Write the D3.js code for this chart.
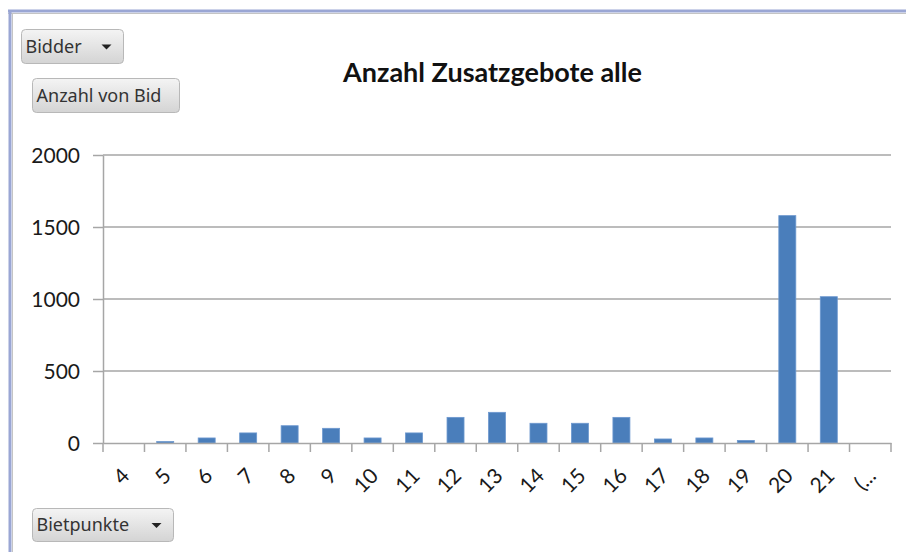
<!DOCTYPE html>
<html>
<head>
<meta charset="utf-8">
<script src="https://cdn.jsdelivr.net/npm/d3@7"></script>
<style>
  body { margin: 0; background: #fff; }
  svg { display: block; }
  .axis text { font-family: Lato, sans-serif; font-size: 21px; fill: #1a1a1a; }
  .axis path, .axis line { stroke: #a6a6a6; stroke-width: 1.5; }
  .btn text { font-family: "Noto Sans", sans-serif; font-size: 18px; fill: #333; }
</style>
</head>
<body>
<div class="chart"></div>
<script>
const width = 906;
const height = 552;

const categories = ['4', '5', '6', '7', '8', '9', '10', '11', '12', '13', '14', '15', '16', '17', '18', '19', '20', '21', '(...'];
const counts = [0, 10, 35, 70, 120, 102, 35, 70, 178, 213, 137, 137, 178, 28, 35, 18, 1579, 1016, 0];
const yTicks = [0, 500, 1000, 1500, 2000];

const margin = { top: 155, right: 15, bottom: 109, left: 103 };

const svg = d3.select('.chart').append('svg')
  .attr('width', width)
  .attr('height', height);

const defs = svg.append('defs');
const grad = defs.append('linearGradient')
  .attr('id', 'btnGrad')
  .attr('x1', 0).attr('y1', 0).attr('x2', 0).attr('y2', 1);
grad.append('stop').attr('offset', '0%').attr('stop-color', '#f4f4f4');
grad.append('stop').attr('offset', '100%').attr('stop-color', '#d4d4d4');

// frame lines (top and left)
svg.append('line').attr('x1', 8).attr('x2', width).attr('y1', 11).attr('y2', 11)
  .attr('stroke', '#9aa6d4').attr('stroke-width', 3);
svg.append('line').attr('x1', 8).attr('x2', width).attr('y1', 13.5).attr('y2', 13.5)
  .attr('stroke', '#c4c4c4').attr('stroke-width', 1);
svg.append('line').attr('x1', 10).attr('x2', 10).attr('y1', 10).attr('y2', height)
  .attr('stroke', '#9aa6d4').attr('stroke-width', 3);
svg.append('line').attr('x1', 12.5).attr('x2', 12.5).attr('y1', 13).attr('y2', height)
  .attr('stroke', '#c4c4c4').attr('stroke-width', 1);

const scaleX = d3.scaleBand()
  .domain(categories)
  .range([margin.left, width - margin.right])
  .padding(0);

const scaleY = d3.scaleLinear()
  .domain([0, 2000])
  .range([height - margin.bottom, margin.top]);

// gridlines
svg.append('g').selectAll('line')
  .data(yTicks.slice(1))
  .join('line')
  .attr('x1', margin.left).attr('x2', width - margin.right)
  .attr('y1', (d) => scaleY(d)).attr('y2', (d) => scaleY(d))
  .attr('stroke', '#a6a6a6').attr('stroke-width', 1.5);

// bars
const bw = scaleX.bandwidth();
svg.append('g').selectAll('rect')
  .data(categories.map((c, i) => ({ cat: c, value: counts[i] })))
  .join('rect')
  .attr('x', (d) => scaleX(d.cat) + bw * 0.295)
  .attr('width', bw * 0.41)
  .attr('y', (d) => scaleY(d.value))
  .attr('height', (d) => scaleY(0) - scaleY(d.value))
  .attr('fill', '#4a7ebb')
  .attr('stroke', '#6d98cf')
  .attr('stroke-width', 0.8);

// y axis
const yAxis = svg.append('g')
  .attr('class', 'axis')
  .attr('transform', 'translate(' + margin.left + ',0)')
  .call(d3.axisLeft(scaleY).tickValues(yTicks).tickFormat(d3.format('d'))
    .tickSize(10).tickPadding(13).tickSizeOuter(0));
yAxis.selectAll('text').attr('dy', '0.36em');

// x axis
const xAxis = svg.append('g')
  .attr('class', 'axis')
  .attr('transform', 'translate(0,' + scaleY(0) + ')')
  .call(d3.axisBottom(scaleX).tickSize(0).tickSizeOuter(0));
xAxis.selectAll('.tick text')
  .attr('text-anchor', 'end')
  .attr('dy', 0)
  .attr('transform', 'translate(5,32) rotate(-45)');

// category separator ticks
const edges = categories.map((c) => scaleX(c)).concat([scaleX.range()[1]]);
xAxis.append('g').selectAll('line')
  .data(edges)
  .join('line')
  .attr('x1', (d) => d).attr('x2', (d) => d)
  .attr('y1', 0).attr('y2', 9);

// title
svg.append('text')
  .attr('x', 492.5)
  .attr('y', 82)
  .attr('text-anchor', 'middle')
  .style('font-family', 'Lato, sans-serif')
  .style('font-weight', 'bold')
  .style('font-size', '27px')
  .style('fill', '#111')
  .text('Anzahl Zusatzgebote alle');

// pivot field buttons
const buttons = [
  { label: 'Bidder', x: 21.5, y: 29.5, w: 102, h: 34, arrow: true },
  { label: 'Anzahl von Bid', x: 32.5, y: 78.5, w: 147, h: 34, arrow: false },
  { label: 'Bietpunkte', x: 32.5, y: 508.5, w: 141, h: 33, arrow: true }
];

const btn = svg.append('g').attr('class', 'btn').selectAll('g')
  .data(buttons)
  .join('g')
  .attr('transform', (d) => 'translate(' + d.x + ',' + d.y + ')');

btn.append('rect')
  .attr('width', (d) => d.w)
  .attr('height', (d) => d.h)
  .attr('rx', 4)
  .attr('fill', 'url(#btnGrad)')
  .attr('stroke', '#b8b8b8');

btn.append('text')
  .attr('x', 4)
  .attr('y', (d) => d.h / 2 + 6)
  .text((d) => d.label);

btn.filter((d) => d.arrow).append('path')
  .attr('d', (d) => 'M' + (d.w - 22) + ',' + (d.h / 2 - 2) + 'h10l-5,5z')
  .attr('fill', '#222');
</script>
</body>
</html>
